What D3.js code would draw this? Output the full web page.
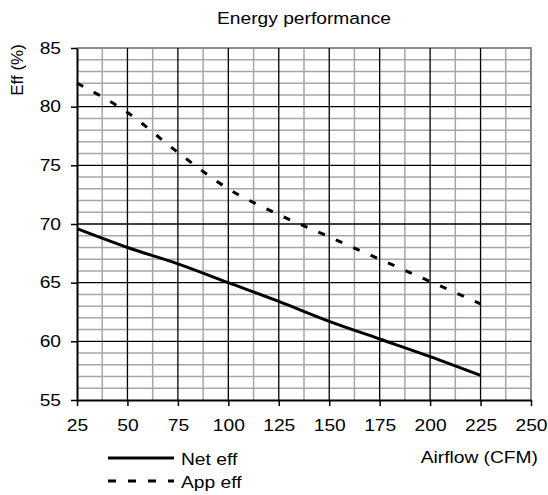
<!DOCTYPE html>
<html>
<head>
<meta charset="utf-8">
<script src="https://cdn.jsdelivr.net/npm/d3@7"></script>
<style>
  body { margin: 0; background: #fff; }
  svg text { font-family: "Liberation Sans", Arial, sans-serif; fill: #000; }
</style>
</head>
<body>
<svg id="chart" width="548" height="495"></svg>
<script>
// Energy performance chart

// Data
const airflow = [25, 50, 75, 100, 125, 150, 175, 200, 225];
const netEff = [69.6, 68.0, 66.6, 65.0, 63.4, 61.7, 60.2, 58.7, 57.1];
const appEff = [82.0, 79.5, 76.1, 73.0, 70.8, 68.9, 67.0, 65.1, 63.2];
const xTicks = [25, 50, 75, 100, 125, 150, 175, 200, 225, 250];
const yTicks = [55, 60, 65, 70, 75, 80, 85];
const seriesNames = ['Net eff', 'App eff'];

// Layout
const width = 548;
const height = 495;
const plot = { left: 77, right: 531, top: 48, bottom: 400 };
const TEXT_STRETCH = 1.2;  // reference text is horizontally widened

const svg = d3.select('#chart');

const x = d3.scaleLinear().domain([25, 250]).range([plot.left, plot.right]);
const y = d3.scaleLinear().domain([55, 85]).range([plot.bottom, plot.top]);

// widen text glyphs to match the reference
function stretch(sel) {
    sel.each(function () {
        const w = this.getComputedTextLength();
        d3.select(this)
            .attr('textLength', w * TEXT_STRETCH)
            .attr('lengthAdjust', 'spacingAndGlyphs');
    });
}

// ===================================
// Grid
// ===================================

const grid = svg.append('g');

// minor gridlines (gray)
grid.selectAll('.vminor')
    .data(d3.range(37.5, 250, 25))
    .join('line')
    .attr('x1', d => x(d)).attr('x2', d => x(d))
    .attr('y1', plot.top).attr('y2', plot.bottom)
    .attr('stroke', '#a6a6a6').attr('stroke-width', 1.5);

grid.selectAll('.hminor')
    .data(d3.range(56, 85, 1).filter(d => d % 5 !== 0))
    .join('line')
    .attr('x1', plot.left).attr('x2', plot.right)
    .attr('y1', d => y(d)).attr('y2', d => y(d))
    .attr('stroke', '#a6a6a6').attr('stroke-width', 1.5);

// border top / right (gray)
grid.append('path')
    .attr('d', `M${plot.left},${plot.top}H${plot.right}V${plot.bottom}`)
    .attr('fill', 'none')
    .attr('stroke', '#8c8c8c').attr('stroke-width', 2);

// major gridlines (black)
grid.selectAll('.vmajor')
    .data(xTicks.slice(1, -1))
    .join('line')
    .attr('x1', d => x(d)).attr('x2', d => x(d))
    .attr('y1', plot.top).attr('y2', plot.bottom)
    .attr('stroke', '#000').attr('stroke-width', 1.3);

grid.selectAll('.hmajor')
    .data(yTicks.slice(1, -1))
    .join('line')
    .attr('x1', plot.left).attr('x2', plot.right)
    .attr('y1', d => y(d)).attr('y2', d => y(d))
    .attr('stroke', '#000').attr('stroke-width', 1.3);

// ===================================
// Axes
// ===================================

const xAxis = svg.append('g')
    .attr('transform', `translate(0,${plot.bottom})`)
    .call(d3.axisBottom(x).tickValues(xTicks).tickSize(6).tickSizeOuter(0).tickPadding(14));

const yAxis = svg.append('g')
    .attr('transform', `translate(${plot.left},0)`)
    .call(d3.axisLeft(y).tickValues(yTicks).tickSize(6).tickSizeOuter(0).tickPadding(10));

[xAxis, yAxis].forEach(ax => {
    ax.select('.domain').attr('stroke', '#000').attr('stroke-width', 2);
    ax.selectAll('.tick line').attr('stroke', '#000').attr('stroke-width', 1.5);
    ax.selectAll('.tick text')
        .attr('font-size', 16)
        .attr('font-family', '"Liberation Sans", Arial, sans-serif')
        .attr('fill', '#000')
        .call(stretch);
});

// ===================================
// Lines
// ===================================

const line = d3.line()
    .x(d => x(d[0]))
    .y(d => y(d[1]))
    .curve(d3.curveMonotoneX);

svg.append('path')
    .datum(d3.zip(airflow, netEff))
    .attr('d', line)
    .attr('fill', 'none')
    .attr('stroke', '#000')
    .attr('stroke-width', 3);

svg.append('path')
    .datum(d3.zip(airflow, appEff))
    .attr('d', line)
    .attr('fill', 'none')
    .attr('stroke', '#000')
    .attr('stroke-width', 3)
    .attr('stroke-dasharray', '7,12');

// ===================================
// Titles and legend
// ===================================

svg.append('text')
    .attr('x', 304).attr('y', 24)
    .attr('text-anchor', 'middle')
    .attr('font-size', 16)
    .text('Energy performance')
    .call(stretch);

svg.append('text')
    .attr('transform', 'translate(23,70) rotate(-90)')
    .attr('text-anchor', 'middle')
    .attr('font-size', 17)
    .text('Eff (%)');

svg.append('text')
    .attr('x', 538).attr('y', 463)
    .attr('text-anchor', 'end')
    .attr('font-size', 16)
    .text('Airflow (CFM)')
    .call(stretch);

const legend = svg.append('g');
seriesNames.forEach((name, i) => {
    const ly = 458 + i * 23;
    legend.append('line')
        .attr('x1', 108).attr('x2', 174)
        .attr('y1', ly).attr('y2', ly)
        .attr('stroke', '#000')
        .attr('stroke-width', 3)
        .attr('stroke-dasharray', i === 0 ? null : '8,12');
    legend.append('text')
        .attr('x', 181).attr('y', ly + 7)
        .attr('font-size', 16)
        .text(name)
        .call(stretch);
});
</script>
</body>
</html>
